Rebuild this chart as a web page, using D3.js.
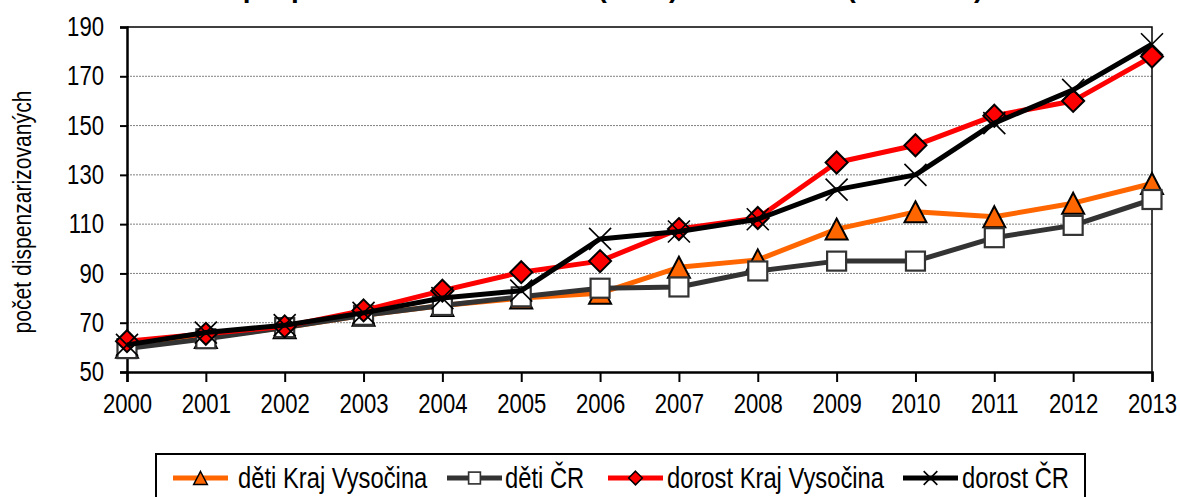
<!DOCTYPE html>
<html>
<head>
<meta charset="utf-8">
<script src="https://cdn.jsdelivr.net/npm/d3@7"></script>
<style>
  html, body { margin: 0; padding: 0; background: #fff; }
  svg { display: block; }
  text { font-family: "Liberation Sans", Arial, sans-serif; }
</style>
</head>
<body>
<svg id="chart" width="1180" height="497"></svg>
<script>
// ---- data ----
const years = [2000, 2001, 2002, 2003, 2004, 2005, 2006, 2007, 2008, 2009, 2010, 2011, 2012, 2013];
const detiKraj   = [60, 64, 68, 73, 77, 80, 82, 92.5, 95.5, 108, 115, 113, 118.5, 126.5];
const detiCR     = [59.5, 63.5, 68, 73, 77, 80.5, 84, 84.5, 91, 95, 95, 104.5, 109.5, 120];
const dorostKraj = [62.5, 65.5, 68.5, 75, 83, 90.5, 95, 108, 112.5, 135, 142, 154, 160, 178];
const dorostCR   = [61, 66, 69, 74, 80, 83, 104, 107, 112, 124, 130, 151, 164.5, 183];
const seriesNames = ["děti Kraj Vysočina", "děti ČR", "dorost Kraj Vysočina", "dorost ČR"];
const yTicks = [50, 70, 90, 110, 130, 150, 170, 190];
const titleText = "Epilepsie – incidence u dětí (0–14) a u dorostu (15–19 let)";
const yTitle = "počet dispenzarizovaných";

// ---- layout ----
const svg = d3.select("#chart");
const L = 127, R = 1152, T = 27, B = 372;
const NARROW = 0.82;
const x = d3.scaleLinear().domain([years[0], years[years.length - 1]]).range([L, R]);
const y = d3.scaleLinear().domain([50, 190]).range([B, T]);

const styles = [
  { color: "#FF6600", marker: "tri" },
  { color: "#333333", marker: "sq" },
  { color: "#FF0000", marker: "dia" },
  { color: "#000000", marker: "x" }
];
const seriesVals = [detiKraj, detiCR, dorostKraj, dorostCR];

// title (mostly cut off above the top edge)
svg.append("text").attr("x", 224).attr("y", -3)
  .attr("font-size", 28).attr("font-weight", "bold").attr("fill", "#000")
  .text(titleText);

// gridlines
svg.append("g").selectAll("line").data(yTicks.filter(v => v > 50 && v < 190)).join("line")
  .attr("x1", L).attr("x2", R).attr("y1", d => y(d)).attr("y2", d => y(d))
  .attr("stroke", "#808080").attr("stroke-width", 1).attr("stroke-dasharray", "2,1");

// frame top/right
svg.append("path").attr("d", `M${L},${T}H${R}V${B}`).attr("fill", "none")
  .attr("stroke", "#000").attr("stroke-width", 1.5);

// y axis
const yAxis = d3.axisLeft(y).tickValues(yTicks).tickSize(7).tickPadding(15).tickFormat(d3.format("d"));
const gy = svg.append("g").attr("transform", `translate(${L},0)`).call(yAxis);
gy.select(".domain").attr("stroke", "#000").attr("stroke-width", 2.5);
gy.selectAll(".tick line").attr("stroke", "#000").attr("stroke-width", 2);
gy.selectAll(".tick text").attr("font-size", 27).attr("fill", "#000")
  .attr("x", -23 / NARROW).attr("transform", `scale(${NARROW},1)`);

// x axis
const xAxis = d3.axisBottom(x).tickValues(years).tickSize(10).tickPadding(12).tickFormat(d3.format("d"));
const gx = svg.append("g").attr("transform", `translate(0,${B})`).call(xAxis);
gx.select(".domain").attr("stroke", "#000").attr("stroke-width", 2.5);
gx.selectAll(".tick line").attr("stroke", "#000").attr("stroke-width", 2);
gx.selectAll(".tick text").attr("font-size", 27).attr("fill", "#000")
  .attr("transform", `scale(${NARROW},1)`);

// y title
svg.append("text").attr("transform", `translate(31,212) rotate(-90) scale(0.845,1)`)
  .attr("text-anchor", "middle").attr("font-size", 25).attr("fill", "#000").text(yTitle);

// markers
function drawMarker(g, type, color, s) {
  if (type === "tri") {
    const w = 22 * s, h = 21 * s;
    g.append("path").attr("d", `M0,${-h / 2}L${w / 2},${h / 2}L${-w / 2},${h / 2}Z`)
      .attr("fill", color).attr("stroke", "#000").attr("stroke-width", 2 * Math.max(s, 0.75));
  } else if (type === "sq") {
    const a = 19 * s;
    g.append("rect").attr("x", -a / 2).attr("y", -a / 2).attr("width", a).attr("height", a)
      .attr("fill", "#fff").attr("stroke", color).attr("stroke-width", 2.2 * Math.max(s, 0.75));
  } else if (type === "dia") {
    const r = 11 * s;
    g.append("path").attr("d", `M0,${-r}L${r},0L0,${r}L${-r},0Z`)
      .attr("fill", color).attr("stroke", "#000").attr("stroke-width", 2 * Math.max(s, 0.75));
  } else {
    const r = 11 * s;
    g.append("path").attr("d", `M${-r},${-r}L${r},${r}M${-r},${r}L${r},${-r}`)
      .attr("fill", "none").attr("stroke", "#000").attr("stroke-width", 1.6);
  }
}

const line = d3.line().x((d, i) => x(years[i])).y(d => y(d));
seriesVals.forEach((vals, k) => {
  const st = styles[k];
  const g = svg.append("g");
  g.append("path").datum(vals).attr("d", line).attr("fill", "none")
    .attr("stroke", st.color).attr("stroke-width", 5).attr("stroke-linejoin", "round");
  vals.forEach((v, i) => {
    const m = g.append("g").attr("transform", `translate(${x(years[i])},${y(v)})`);
    drawMarker(m, st.marker, st.color, 1);
  });
});

// legend
const lg = svg.append("g");
lg.append("rect").attr("x", 156).attr("y", 454).attr("width", 929).attr("height", 70)
  .attr("fill", "#fff").attr("stroke", "#000").attr("stroke-width", 2);
const legendX = [173, 447, 608, 903];
const legendTextX = [238, 505, 667, 962];
const ly = 478;
seriesNames.forEach((name, k) => {
  const st = styles[k];
  lg.append("line").attr("x1", legendX[k]).attr("x2", legendX[k] + 55).attr("y1", ly).attr("y2", ly)
    .attr("stroke", st.color).attr("stroke-width", 5);
  const m = lg.append("g").attr("transform", `translate(${legendX[k] + 27.5},${ly})`);
  drawMarker(m, st.marker, st.color, 0.62);
  lg.append("text").attr("x", legendTextX[k] / NARROW).attr("y", 488).attr("font-size", 29)
    .attr("transform", `scale(${NARROW},1)`)
    .attr("fill", "#000").text(name);
});
</script>
</body>
</html>
